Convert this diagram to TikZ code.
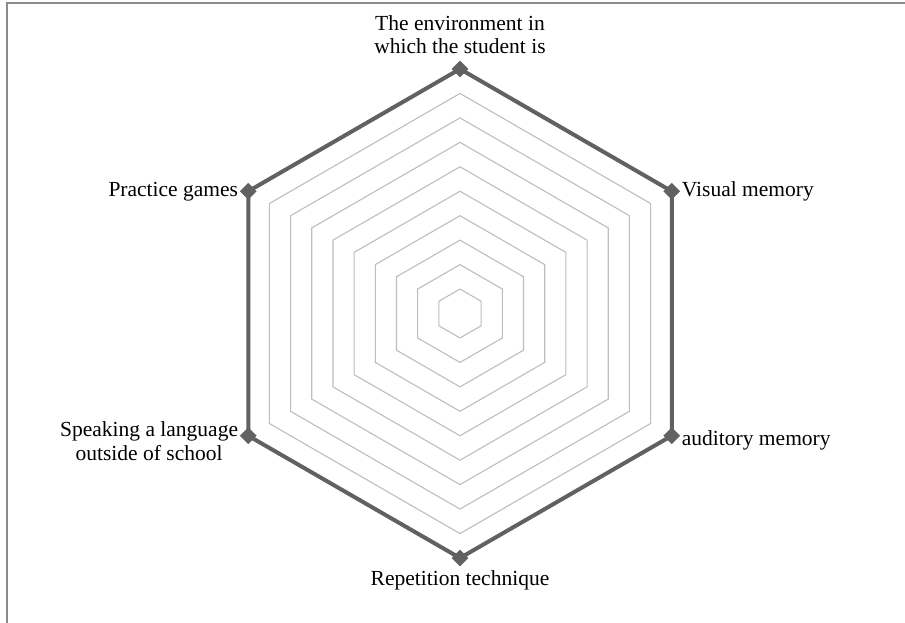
\documentclass[tikz,border=0pt]{standalone}
\usepackage{fontspec}
\setmainfont{Liberation Serif}
\usetikzlibrary{shapes.geometric,calc}
\definecolor{frame}{HTML}{8C8C8C}
\definecolor{ring}{HTML}{BDBDBD}
\definecolor{series}{HTML}{616161}
\tikzset{
  ringline/.style={draw=ring, line width=1.1pt, line join=miter},
  seriesline/.style={draw=series, line width=4pt, line join=miter},
  marker/.style={diamond, fill=series, draw=none, inner sep=0pt, minimum width=17pt, minimum height=17pt},
  lbl/.style={font=\fontsize{21.5}{23.5}\selectfont, inner sep=0pt, text=black},
}
\begin{document}
\begin{tikzpicture}[x=1pt,y=-1pt]
\useasboundingbox (0,0) rectangle (905,623);
% frame
\draw[frame, line width=2pt] (7,623) -- (7,3) -- (905,3);
% centre and radius
\coordinate (c) at (460,313.5);
\def\R{244.5}
% grid rings
\foreach \k in {1,...,10}{
  \draw[ringline] ($(c)+(90:{\k*\R/10})$) \foreach \a in {30,-30,-90,-150,150}{ -- ($(c)+(\a:{\k*\R/10})$)} -- cycle;
}
% series vertices
\coordinate (v1) at ($(c)+(0,-\R)$);
\coordinate (v2) at ($(c)+({0.8660254*\R},{-0.5*\R})$);
\coordinate (v3) at ($(c)+({0.8660254*\R},{0.5*\R})$);
\coordinate (v4) at ($(c)+(0,\R)$);
\coordinate (v5) at ($(c)+({-0.8660254*\R},{0.5*\R})$);
\coordinate (v6) at ($(c)+({-0.8660254*\R},{-0.5*\R})$);
\draw[seriesline] (v1) -- (v2) -- (v3) -- (v4) -- (v5) -- (v6) -- cycle;
\foreach \v in {v1,v2,v3,v4,v5,v6}{ \node[marker] (m\v) at (\v) {}; }
% labels
\node[lbl, align=center, anchor=south] (l1) at ($(v1)+(0,-15)$) {The environment in\\which the student is};
\node[lbl, anchor=west] (l2) at ($(v2)+(10,0)$) {Visual memory};
\node[lbl, anchor=west] (l3) at ($(v3)+(10,5)$) {auditory memory};
\node[lbl, anchor=north] (l4) at ($(v4)+(0,12)$) {Repetition technique};
\node[lbl, align=center, anchor=north east] (l5) at ($(v5)+(-10,-14)$) {Speaking a language\\outside of school};
\node[lbl, anchor=east] (l6) at ($(v6)+(-10,0)$) {Practice games};
\end{tikzpicture}
\end{document}
